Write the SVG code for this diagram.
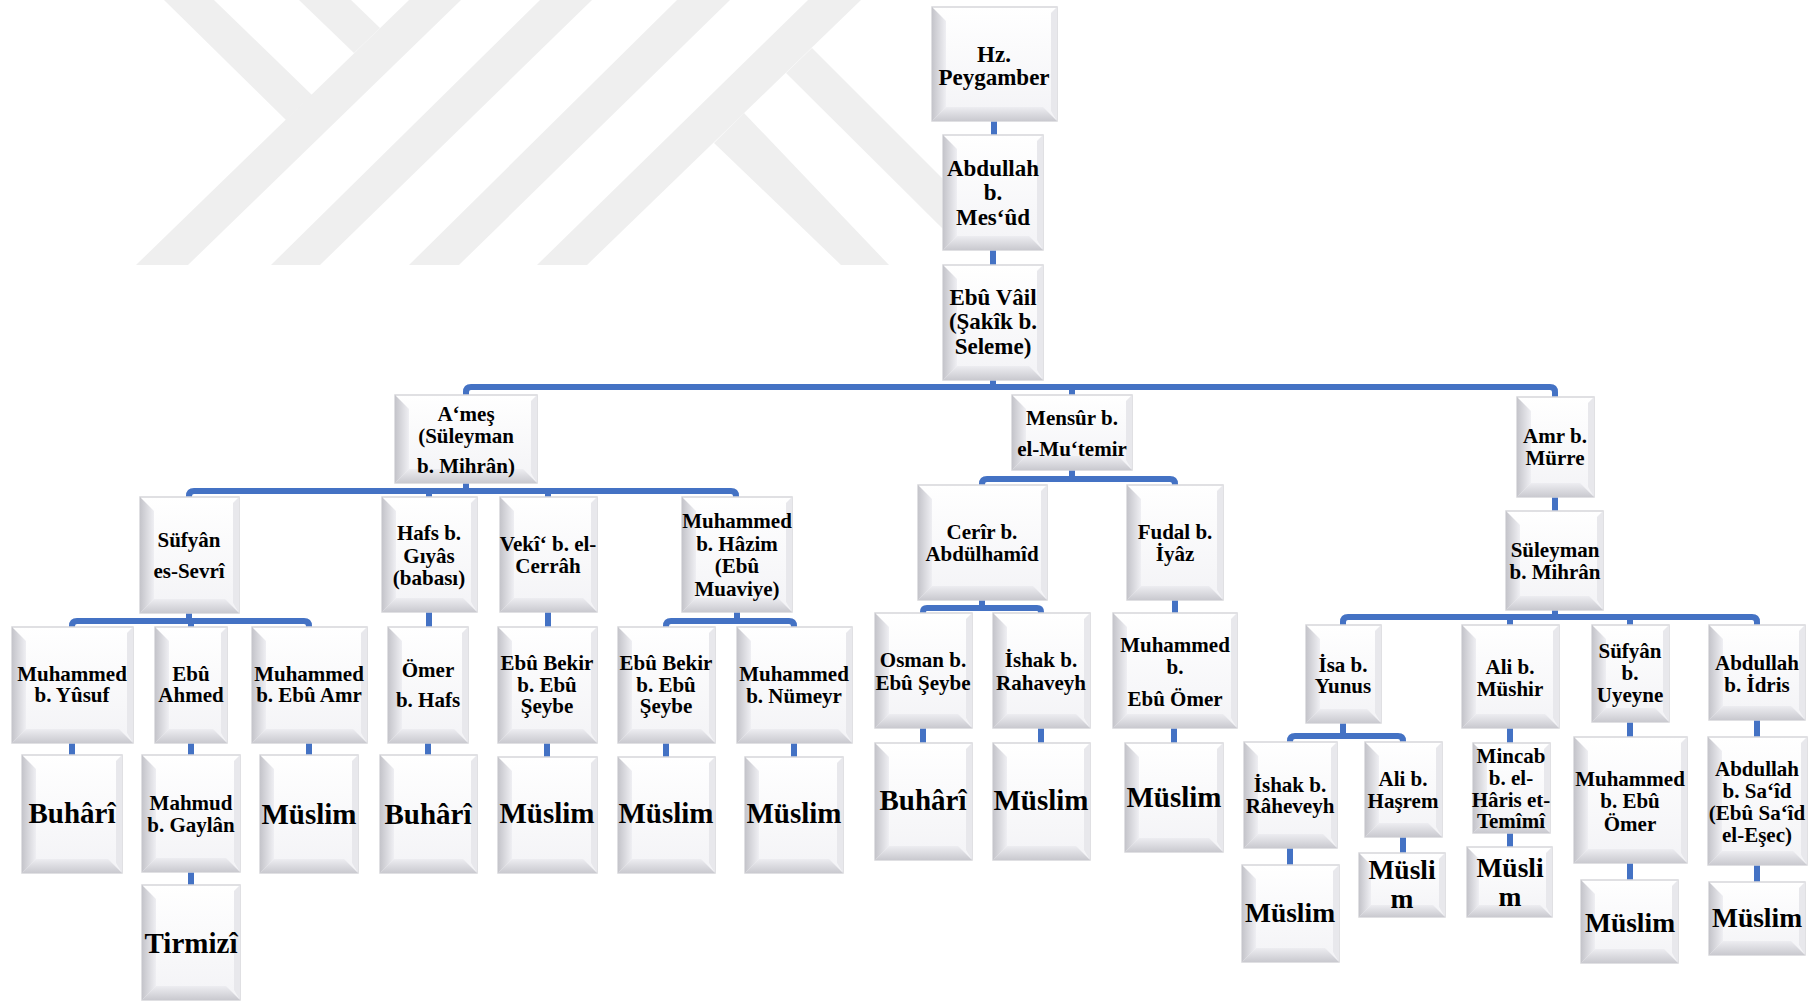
<svg xmlns="http://www.w3.org/2000/svg" width="1815" height="1002" viewBox="0 0 1815 1002">
<defs>
<linearGradient id="gl" x1="0" y1="0" x2="1" y2="0"><stop offset="0" stop-color="#c4c4ca"/><stop offset="1" stop-color="#efeff3"/></linearGradient>
<linearGradient id="gb" x1="0" y1="0" x2="0" y2="1"><stop offset="0" stop-color="#ededf1"/><stop offset="1" stop-color="#c9c9cf"/></linearGradient>
<linearGradient id="gf" x1="0" y1="0" x2="0" y2="1"><stop offset="0" stop-color="#ffffff"/><stop offset="1" stop-color="#f3f3f6"/></linearGradient>
</defs>
<style>
.frame{fill:url(#gf);stroke:#d6d6da;stroke-width:1.5}
.bl{fill:url(#gl)}
.bb{fill:url(#gb)}
.br{fill:#e8e8ec}
text{font-family:"Liberation Serif","Times New Roman",serif;font-weight:bold;text-anchor:middle;fill:#000}
.t{font-size:21px}
.tt{font-size:23px}
.tb{font-size:29px}
.tr{font-size:27.5px}
.wm{fill:#efefef}
.c{fill:none;stroke:#4472c4;stroke-width:6}
</style>
<rect width="1815" height="1002" fill="#ffffff"/>
<g id="watermark">
<polygon class="wm" points="136,265 188,265 461,0 409,0"/>
<polygon class="wm" points="164,0 214,0 312,95 286,120"/>
<polygon class="wm" points="299,0 351,0 380,28 354,53"/>
<polygon class="wm" points="271,265 320,265 592,0 540,0"/>
<polygon class="wm" points="409,265 459,265 730,0 677,0"/>
<polygon class="wm" points="537,265 587,265 861,0 808,0"/>
<polygon class="wm" points="714,143 744,113 889,265 841,265"/>
<polygon class="wm" points="786,73 812,48 943,179 943,229"/>
</g>
<g id="connectors">
<path class="c" d="M994,121V135M993,250V265M993,380V387"/>
<path class="c" d="M466,395V392Q466,387 471,387H1550Q1555,387 1555,392V397M1072,387V395"/>
<path class="c" d="M466,483V491M189,497V496Q189,491 194,491H731Q736,491 736,496V497M429,491V497M548,491V497"/>
<path class="c" d="M189,613V621M72,627V626Q72,621 77,621H304Q309,621 309,626V627M191,621V627"/>
<path class="c" d="M429,612V627M548,612V627"/>
<path class="c" d="M737,612V621M666,627V626Q666,621 671,621H789Q794,621 794,626V627"/>
<path class="c" d="M72,743V755M191,743V755M309,743V755M428,743V755M547,743V757M666,743V757M794,743V757M191,872V885"/>
<path class="c" d="M1072,470V479M982,485V484Q982,479 987,479H1170Q1175,479 1175,484V485"/>
<path class="c" d="M982,600V608M923,614V612Q923,608 927,608H1037Q1041,608 1041,612V614M1175,600V613"/>
<path class="c" d="M923,728V743M1041,728V743M1174,728V743"/>
<path class="c" d="M1555,497V511M1555,610V617M1343,625V622Q1343,617 1348,617H1752Q1757,617 1757,622V625M1510,617V625M1630,617V625"/>
<path class="c" d="M1343,723V736M1290,742V741Q1290,736 1295,736H1398Q1403,736 1403,741V742"/>
<path class="c" d="M1510,728V743M1510,833V847M1403,837V853M1290,848V865M1630,722V737M1630,863V880M1757,720V737M1757,865V882"/>
</g>
<g id="n-hz"><rect class="frame" x="932" y="7" width="125" height="114"/><path class="bl" d="M932,7l14,14v86l-14,14z"/><path class="bb" d="M932,121l14,-14h97l14,14z"/><path class="br" d="M1057,7l-6,6v98l6,10z"/><text class="tt" x="994" y="62">Hz.</text><text class="tt" x="994" y="85">Peygamber</text></g>
<g id="n-abdullah"><rect class="frame" x="943" y="135" width="100" height="115"/><path class="bl" d="M943,135l14,14v87l-14,14z"/><path class="bb" d="M943,250l14,-14h72l14,14z"/><path class="br" d="M1043,135l-6,6v99l6,10z"/><text class="tt" x="993" y="176">Abdullah</text><text class="tt" x="993" y="200">b.</text><text class="tt" x="993" y="225">Mes‘ûd</text></g>
<g id="n-ebuvail"><rect class="frame" x="943" y="265" width="100" height="115"/><path class="bl" d="M943,265l14,14v87l-14,14z"/><path class="bb" d="M943,380l14,-14h72l14,14z"/><path class="br" d="M1043,265l-6,6v99l6,10z"/><text class="tt" x="993" y="305">Ebû Vâil</text><text class="tt" x="993" y="329">(Şakîk b.</text><text class="tt" x="993" y="354">Seleme)</text></g>
<g id="n-ames"><rect class="frame" x="395" y="395" width="142" height="88"/><path class="bl" d="M395,395l14,14v60l-14,14z"/><path class="bb" d="M395,483l14,-14h114l14,14z"/><path class="br" d="M537,395l-6,6v72l6,10z"/><text class="t" x="466" y="421">A‘meş</text><text class="t" x="466" y="443">(Süleyman</text><text class="t" x="466" y="473">b. Mihrân)</text></g>
<g id="n-mensur"><rect class="frame" x="1012" y="395" width="120" height="75"/><path class="bl" d="M1012,395l14,14v47l-14,14z"/><path class="bb" d="M1012,470l14,-14h92l14,14z"/><path class="br" d="M1132,395l-6,6v59l6,10z"/><text class="t" x="1072" y="425">Mensûr b.</text><text class="t" x="1072" y="456">el-Mu‘temir</text></g>
<g id="n-amr"><rect class="frame" x="1517" y="397" width="77" height="100"/><path class="bl" d="M1517,397l14,14v72l-14,14z"/><path class="bb" d="M1517,497l14,-14h49l14,14z"/><path class="br" d="M1594,397l-6,6v84l6,10z"/><text class="t" x="1555" y="443">Amr b.</text><text class="t" x="1555" y="465">Mürre</text></g>
<g id="n-sufyan"><rect class="frame" x="140" y="497" width="99" height="116"/><path class="bl" d="M140,497l14,14v88l-14,14z"/><path class="bb" d="M140,613l14,-14h71l14,14z"/><path class="br" d="M239,497l-6,6v100l6,10z"/><text class="t" x="189" y="547">Süfyân</text><text class="t" x="189" y="578">es-Sevrî</text></g>
<g id="n-hafs"><rect class="frame" x="382" y="497" width="95" height="115"/><path class="bl" d="M382,497l14,14v87l-14,14z"/><path class="bb" d="M382,612l14,-14h67l14,14z"/><path class="br" d="M477,497l-6,6v99l6,10z"/><text class="t" x="429" y="540">Hafs b.</text><text class="t" x="429" y="563">Gıyâs</text><text class="t" x="429" y="585">(babası)</text></g>
<g id="n-veki"><rect class="frame" x="500" y="497" width="97" height="115"/><path class="bl" d="M500,497l14,14v87l-14,14z"/><path class="bb" d="M500,612l14,-14h69l14,14z"/><path class="br" d="M597,497l-6,6v99l6,10z"/><text class="t" x="548" y="551">Vekî‘ b. el-</text><text class="t" x="548" y="573">Cerrâh</text></g>
<g id="n-hazim"><rect class="frame" x="682" y="497" width="110" height="115"/><path class="bl" d="M682,497l14,14v87l-14,14z"/><path class="bb" d="M682,612l14,-14h82l14,14z"/><path class="br" d="M792,497l-6,6v99l6,10z"/><text class="t" x="737" y="528">Muhammed</text><text class="t" x="737" y="551">b. Hâzim</text><text class="t" x="737" y="573">(Ebû</text><text class="t" x="737" y="596">Muaviye)</text></g>
<g id="n-cerir"><rect class="frame" x="918" y="485" width="129" height="115"/><path class="bl" d="M918,485l14,14v87l-14,14z"/><path class="bb" d="M918,600l14,-14h101l14,14z"/><path class="br" d="M1047,485l-6,6v99l6,10z"/><text class="t" x="982" y="539">Cerîr b.</text><text class="t" x="982" y="561">Abdülhamîd</text></g>
<g id="n-fudal"><rect class="frame" x="1127" y="485" width="96" height="115"/><path class="bl" d="M1127,485l14,14v87l-14,14z"/><path class="bb" d="M1127,600l14,-14h68l14,14z"/><path class="br" d="M1223,485l-6,6v99l6,10z"/><text class="t" x="1175" y="539">Fudal b.</text><text class="t" x="1175" y="561">İyâz</text></g>
<g id="n-suleyman"><rect class="frame" x="1506" y="511" width="97" height="99"/><path class="bl" d="M1506,511l14,14v71l-14,14z"/><path class="bb" d="M1506,610l14,-14h69l14,14z"/><path class="br" d="M1603,511l-6,6v83l6,10z"/><text class="t" x="1555" y="557">Süleyman</text><text class="t" x="1555" y="579">b. Mihrân</text></g>
<g id="n-myusuf"><rect class="frame" x="12" y="627" width="121" height="116"/><path class="bl" d="M12,627l14,14v88l-14,14z"/><path class="bb" d="M12,743l14,-14h93l14,14z"/><path class="br" d="M133,627l-6,6v100l6,10z"/><text class="t" x="72" y="681">Muhammed</text><text class="t" x="72" y="702">b. Yûsuf</text></g>
<g id="n-ebuahmed"><rect class="frame" x="155" y="627" width="72" height="116"/><path class="bl" d="M155,627l14,14v88l-14,14z"/><path class="bb" d="M155,743l14,-14h44l14,14z"/><path class="br" d="M227,627l-6,6v100l6,10z"/><text class="t" x="191" y="681">Ebû</text><text class="t" x="191" y="702">Ahmed</text></g>
<g id="n-mebuamr"><rect class="frame" x="252" y="627" width="115" height="116"/><path class="bl" d="M252,627l14,14v88l-14,14z"/><path class="bb" d="M252,743l14,-14h87l14,14z"/><path class="br" d="M367,627l-6,6v100l6,10z"/><text class="t" x="309" y="681">Muhammed</text><text class="t" x="309" y="702">b. Ebû Amr</text></g>
<g id="n-omer"><rect class="frame" x="388" y="627" width="80" height="116"/><path class="bl" d="M388,627l14,14v88l-14,14z"/><path class="bb" d="M388,743l14,-14h52l14,14z"/><path class="br" d="M468,627l-6,6v100l6,10z"/><text class="t" x="428" y="677">Ömer</text><text class="t" x="428" y="707">b. Hafs</text></g>
<g id="n-ebubekir1"><rect class="frame" x="498" y="627" width="99" height="116"/><path class="bl" d="M498,627l14,14v88l-14,14z"/><path class="bb" d="M498,743l14,-14h71l14,14z"/><path class="br" d="M597,627l-6,6v100l6,10z"/><text class="t" x="547" y="670">Ebû Bekir</text><text class="t" x="547" y="692">b. Ebû</text><text class="t" x="547" y="713">Şeybe</text></g>
<g id="n-ebubekir2"><rect class="frame" x="618" y="627" width="97" height="116"/><path class="bl" d="M618,627l14,14v88l-14,14z"/><path class="bb" d="M618,743l14,-14h69l14,14z"/><path class="br" d="M715,627l-6,6v100l6,10z"/><text class="t" x="666" y="670">Ebû Bekir</text><text class="t" x="666" y="692">b. Ebû</text><text class="t" x="666" y="713">Şeybe</text></g>
<g id="n-numeyr"><rect class="frame" x="737" y="627" width="115" height="116"/><path class="bl" d="M737,627l14,14v88l-14,14z"/><path class="bb" d="M737,743l14,-14h87l14,14z"/><path class="br" d="M852,627l-6,6v100l6,10z"/><text class="t" x="794" y="681">Muhammed</text><text class="t" x="794" y="703">b. Nümeyr</text></g>
<g id="n-osman"><rect class="frame" x="875" y="613" width="97" height="115"/><path class="bl" d="M875,613l14,14v87l-14,14z"/><path class="bb" d="M875,728l14,-14h69l14,14z"/><path class="br" d="M972,613l-6,6v99l6,10z"/><text class="t" x="923" y="667">Osman b.</text><text class="t" x="923" y="690">Ebû Şeybe</text></g>
<g id="n-ishak1"><rect class="frame" x="993" y="613" width="97" height="115"/><path class="bl" d="M993,613l14,14v87l-14,14z"/><path class="bb" d="M993,728l14,-14h69l14,14z"/><path class="br" d="M1090,613l-6,6v99l6,10z"/><text class="t" x="1041" y="667">İshak b.</text><text class="t" x="1041" y="690">Rahaveyh</text></g>
<g id="n-mebuomer1"><rect class="frame" x="1113" y="613" width="124" height="115"/><path class="bl" d="M1113,613l14,14v87l-14,14z"/><path class="bb" d="M1113,728l14,-14h96l14,14z"/><path class="br" d="M1237,613l-6,6v99l6,10z"/><text class="t" x="1175" y="652">Muhammed</text><text class="t" x="1175" y="674">b.</text><text class="t" x="1175" y="706">Ebû Ömer</text></g>
<g id="n-isa"><rect class="frame" x="1306" y="625" width="75" height="98"/><path class="bl" d="M1306,625l14,14v70l-14,14z"/><path class="bb" d="M1306,723l14,-14h47l14,14z"/><path class="br" d="M1381,625l-6,6v82l6,10z"/><text class="t" x="1343" y="672">İsa b.</text><text class="t" x="1343" y="693">Yunus</text></g>
<g id="n-alimushir"><rect class="frame" x="1462" y="625" width="97" height="103"/><path class="bl" d="M1462,625l14,14v75l-14,14z"/><path class="bb" d="M1462,728l14,-14h69l14,14z"/><path class="br" d="M1559,625l-6,6v87l6,10z"/><text class="t" x="1510" y="674">Ali b.</text><text class="t" x="1510" y="696">Müshir</text></g>
<g id="n-sufyan2"><rect class="frame" x="1592" y="625" width="77" height="97"/><path class="bl" d="M1592,625l14,14v69l-14,14z"/><path class="bb" d="M1592,722l14,-14h49l14,14z"/><path class="br" d="M1669,625l-6,6v81l6,10z"/><text class="t" x="1630" y="658">Süfyân</text><text class="t" x="1630" y="680">b.</text><text class="t" x="1630" y="702">Uyeyne</text></g>
<g id="n-abdidris"><rect class="frame" x="1709" y="625" width="96" height="95"/><path class="bl" d="M1709,625l14,14v67l-14,14z"/><path class="bb" d="M1709,720l14,-14h68l14,14z"/><path class="br" d="M1805,625l-6,6v79l6,10z"/><text class="t" x="1757" y="670">Abdullah</text><text class="t" x="1757" y="692">b. İdris</text></g>
<g id="n-buhari1"><rect class="frame" x="22" y="755" width="100" height="118"/><path class="bl" d="M22,755l14,14v90l-14,14z"/><path class="bb" d="M22,873l14,-14h72l14,14z"/><path class="br" d="M122,755l-6,6v102l6,10z"/><text class="tb" x="72" y="823">Buhârî</text></g>
<g id="n-mahmud"><rect class="frame" x="142" y="755" width="98" height="117"/><path class="bl" d="M142,755l14,14v89l-14,14z"/><path class="bb" d="M142,872l14,-14h70l14,14z"/><path class="br" d="M240,755l-6,6v101l6,10z"/><text class="t" x="191" y="810">Mahmud</text><text class="t" x="191" y="832">b. Gaylân</text></g>
<g id="n-tirmizi"><rect class="frame" x="142" y="885" width="98" height="115"/><path class="bl" d="M142,885l14,14v87l-14,14z"/><path class="bb" d="M142,1000l14,-14h70l14,14z"/><path class="br" d="M240,885l-6,6v99l6,10z"/><text class="tb" x="191" y="953">Tirmizî</text></g>
<g id="n-muslim1"><rect class="frame" x="260" y="755" width="98" height="118"/><path class="bl" d="M260,755l14,14v90l-14,14z"/><path class="bb" d="M260,873l14,-14h70l14,14z"/><path class="br" d="M358,755l-6,6v102l6,10z"/><text class="tb" x="309" y="824">Müslim</text></g>
<g id="n-buhari2"><rect class="frame" x="380" y="755" width="97" height="118"/><path class="bl" d="M380,755l14,14v90l-14,14z"/><path class="bb" d="M380,873l14,-14h69l14,14z"/><path class="br" d="M477,755l-6,6v102l6,10z"/><text class="tb" x="428" y="824">Buhârî</text></g>
<g id="n-muslim2"><rect class="frame" x="498" y="757" width="99" height="116"/><path class="bl" d="M498,757l14,14v88l-14,14z"/><path class="bb" d="M498,873l14,-14h71l14,14z"/><path class="br" d="M597,757l-6,6v100l6,10z"/><text class="tb" x="547" y="823">Müslim</text></g>
<g id="n-muslim3"><rect class="frame" x="618" y="757" width="97" height="116"/><path class="bl" d="M618,757l14,14v88l-14,14z"/><path class="bb" d="M618,873l14,-14h69l14,14z"/><path class="br" d="M715,757l-6,6v100l6,10z"/><text class="tb" x="666" y="823">Müslim</text></g>
<g id="n-muslim4"><rect class="frame" x="745" y="757" width="98" height="116"/><path class="bl" d="M745,757l14,14v88l-14,14z"/><path class="bb" d="M745,873l14,-14h70l14,14z"/><path class="br" d="M843,757l-6,6v100l6,10z"/><text class="tb" x="794" y="823">Müslim</text></g>
<g id="n-buhari3"><rect class="frame" x="875" y="743" width="97" height="117"/><path class="bl" d="M875,743l14,14v89l-14,14z"/><path class="bb" d="M875,860l14,-14h69l14,14z"/><path class="br" d="M972,743l-6,6v101l6,10z"/><text class="tb" x="923" y="810">Buhârî</text></g>
<g id="n-muslim5"><rect class="frame" x="993" y="743" width="97" height="117"/><path class="bl" d="M993,743l14,14v89l-14,14z"/><path class="bb" d="M993,860l14,-14h69l14,14z"/><path class="br" d="M1090,743l-6,6v101l6,10z"/><text class="tb" x="1041" y="810">Müslim</text></g>
<g id="n-muslim6"><rect class="frame" x="1125" y="743" width="98" height="109"/><path class="bl" d="M1125,743l14,14v81l-14,14z"/><path class="bb" d="M1125,852l14,-14h70l14,14z"/><path class="br" d="M1223,743l-6,6v93l6,10z"/><text class="tb" x="1174" y="807">Müslim</text></g>
<g id="n-ishak2"><rect class="frame" x="1244" y="742" width="93" height="106"/><path class="bl" d="M1244,742l14,14v78l-14,14z"/><path class="bb" d="M1244,848l14,-14h65l14,14z"/><path class="br" d="M1337,742l-6,6v90l6,10z"/><text class="t" x="1290" y="792">İshak b.</text><text class="t" x="1290" y="813">Râheveyh</text></g>
<g id="n-alihasrem"><rect class="frame" x="1365" y="742" width="77" height="95"/><path class="bl" d="M1365,742l14,14v67l-14,14z"/><path class="bb" d="M1365,837l14,-14h49l14,14z"/><path class="br" d="M1442,742l-6,6v79l6,10z"/><text class="t" x="1403" y="786">Ali b.</text><text class="t" x="1403" y="808">Haşrem</text></g>
<g id="n-mincab"><rect class="frame" x="1473" y="743" width="77" height="90"/><path class="bl" d="M1473,743l14,14v62l-14,14z"/><path class="bb" d="M1473,833l14,-14h49l14,14z"/><path class="br" d="M1550,743l-6,6v74l6,10z"/><text class="t" x="1511" y="763">Mincab</text><text class="t" x="1511" y="785">b. el-</text><text class="t" x="1511" y="807">Hâris et-</text><text class="t" x="1511" y="828">Temîmî</text></g>
<g id="n-muslim7"><rect class="frame" x="1242" y="865" width="97" height="97"/><path class="bl" d="M1242,865l14,14v69l-14,14z"/><path class="bb" d="M1242,962l14,-14h69l14,14z"/><path class="br" d="M1339,865l-6,6v81l6,10z"/><text class="tr" x="1290" y="922">Müslim</text></g>
<g id="n-muslim8"><rect class="frame" x="1359" y="853" width="86" height="64"/><path class="bl" d="M1359,853l12,12v40l-12,12z"/><path class="bb" d="M1359,917l12,-12h62l12,12z"/><path class="br" d="M1445,853l-6,6v48l6,10z"/><text class="tr" x="1402" y="879">Müsli</text><text class="tr" x="1402" y="908">m</text></g>
<g id="n-muslim9"><rect class="frame" x="1467" y="847" width="85" height="70"/><path class="bl" d="M1467,847l12,12v46l-12,12z"/><path class="bb" d="M1467,917l12,-12h61l12,12z"/><path class="br" d="M1552,847l-6,6v54l6,10z"/><text class="tr" x="1510" y="877">Müsli</text><text class="tr" x="1510" y="906">m</text></g>
<g id="n-mebuomer2"><rect class="frame" x="1574" y="737" width="113" height="126"/><path class="bl" d="M1574,737l14,14v98l-14,14z"/><path class="bb" d="M1574,863l14,-14h85l14,14z"/><path class="br" d="M1687,737l-6,6v110l6,10z"/><text class="t" x="1630" y="786">Muhammed</text><text class="t" x="1630" y="808">b. Ebû</text><text class="t" x="1630" y="831">Ömer</text></g>
<g id="n-muslim10"><rect class="frame" x="1581" y="880" width="97" height="83"/><path class="bl" d="M1581,880l14,14v55l-14,14z"/><path class="bb" d="M1581,963l14,-14h69l14,14z"/><path class="br" d="M1678,880l-6,6v67l6,10z"/><text class="tr" x="1630" y="932">Müslim</text></g>
<g id="n-abdsaid"><rect class="frame" x="1708" y="737" width="99" height="128"/><path class="bl" d="M1708,737l14,14v100l-14,14z"/><path class="bb" d="M1708,865l14,-14h71l14,14z"/><path class="br" d="M1807,737l-6,6v112l6,10z"/><text class="t" x="1757" y="776">Abdullah</text><text class="t" x="1757" y="798">b. Sa‘îd</text><text class="t" x="1757" y="820">(Ebû Sa‘îd</text><text class="t" x="1757" y="842">el-Eşec)</text></g>
<g id="n-muslim11"><rect class="frame" x="1709" y="882" width="96" height="73"/><path class="bl" d="M1709,882l14,14v45l-14,14z"/><path class="bb" d="M1709,955l14,-14h68l14,14z"/><path class="br" d="M1805,882l-6,6v57l6,10z"/><text class="tr" x="1757" y="927">Müslim</text></g>
</svg>
